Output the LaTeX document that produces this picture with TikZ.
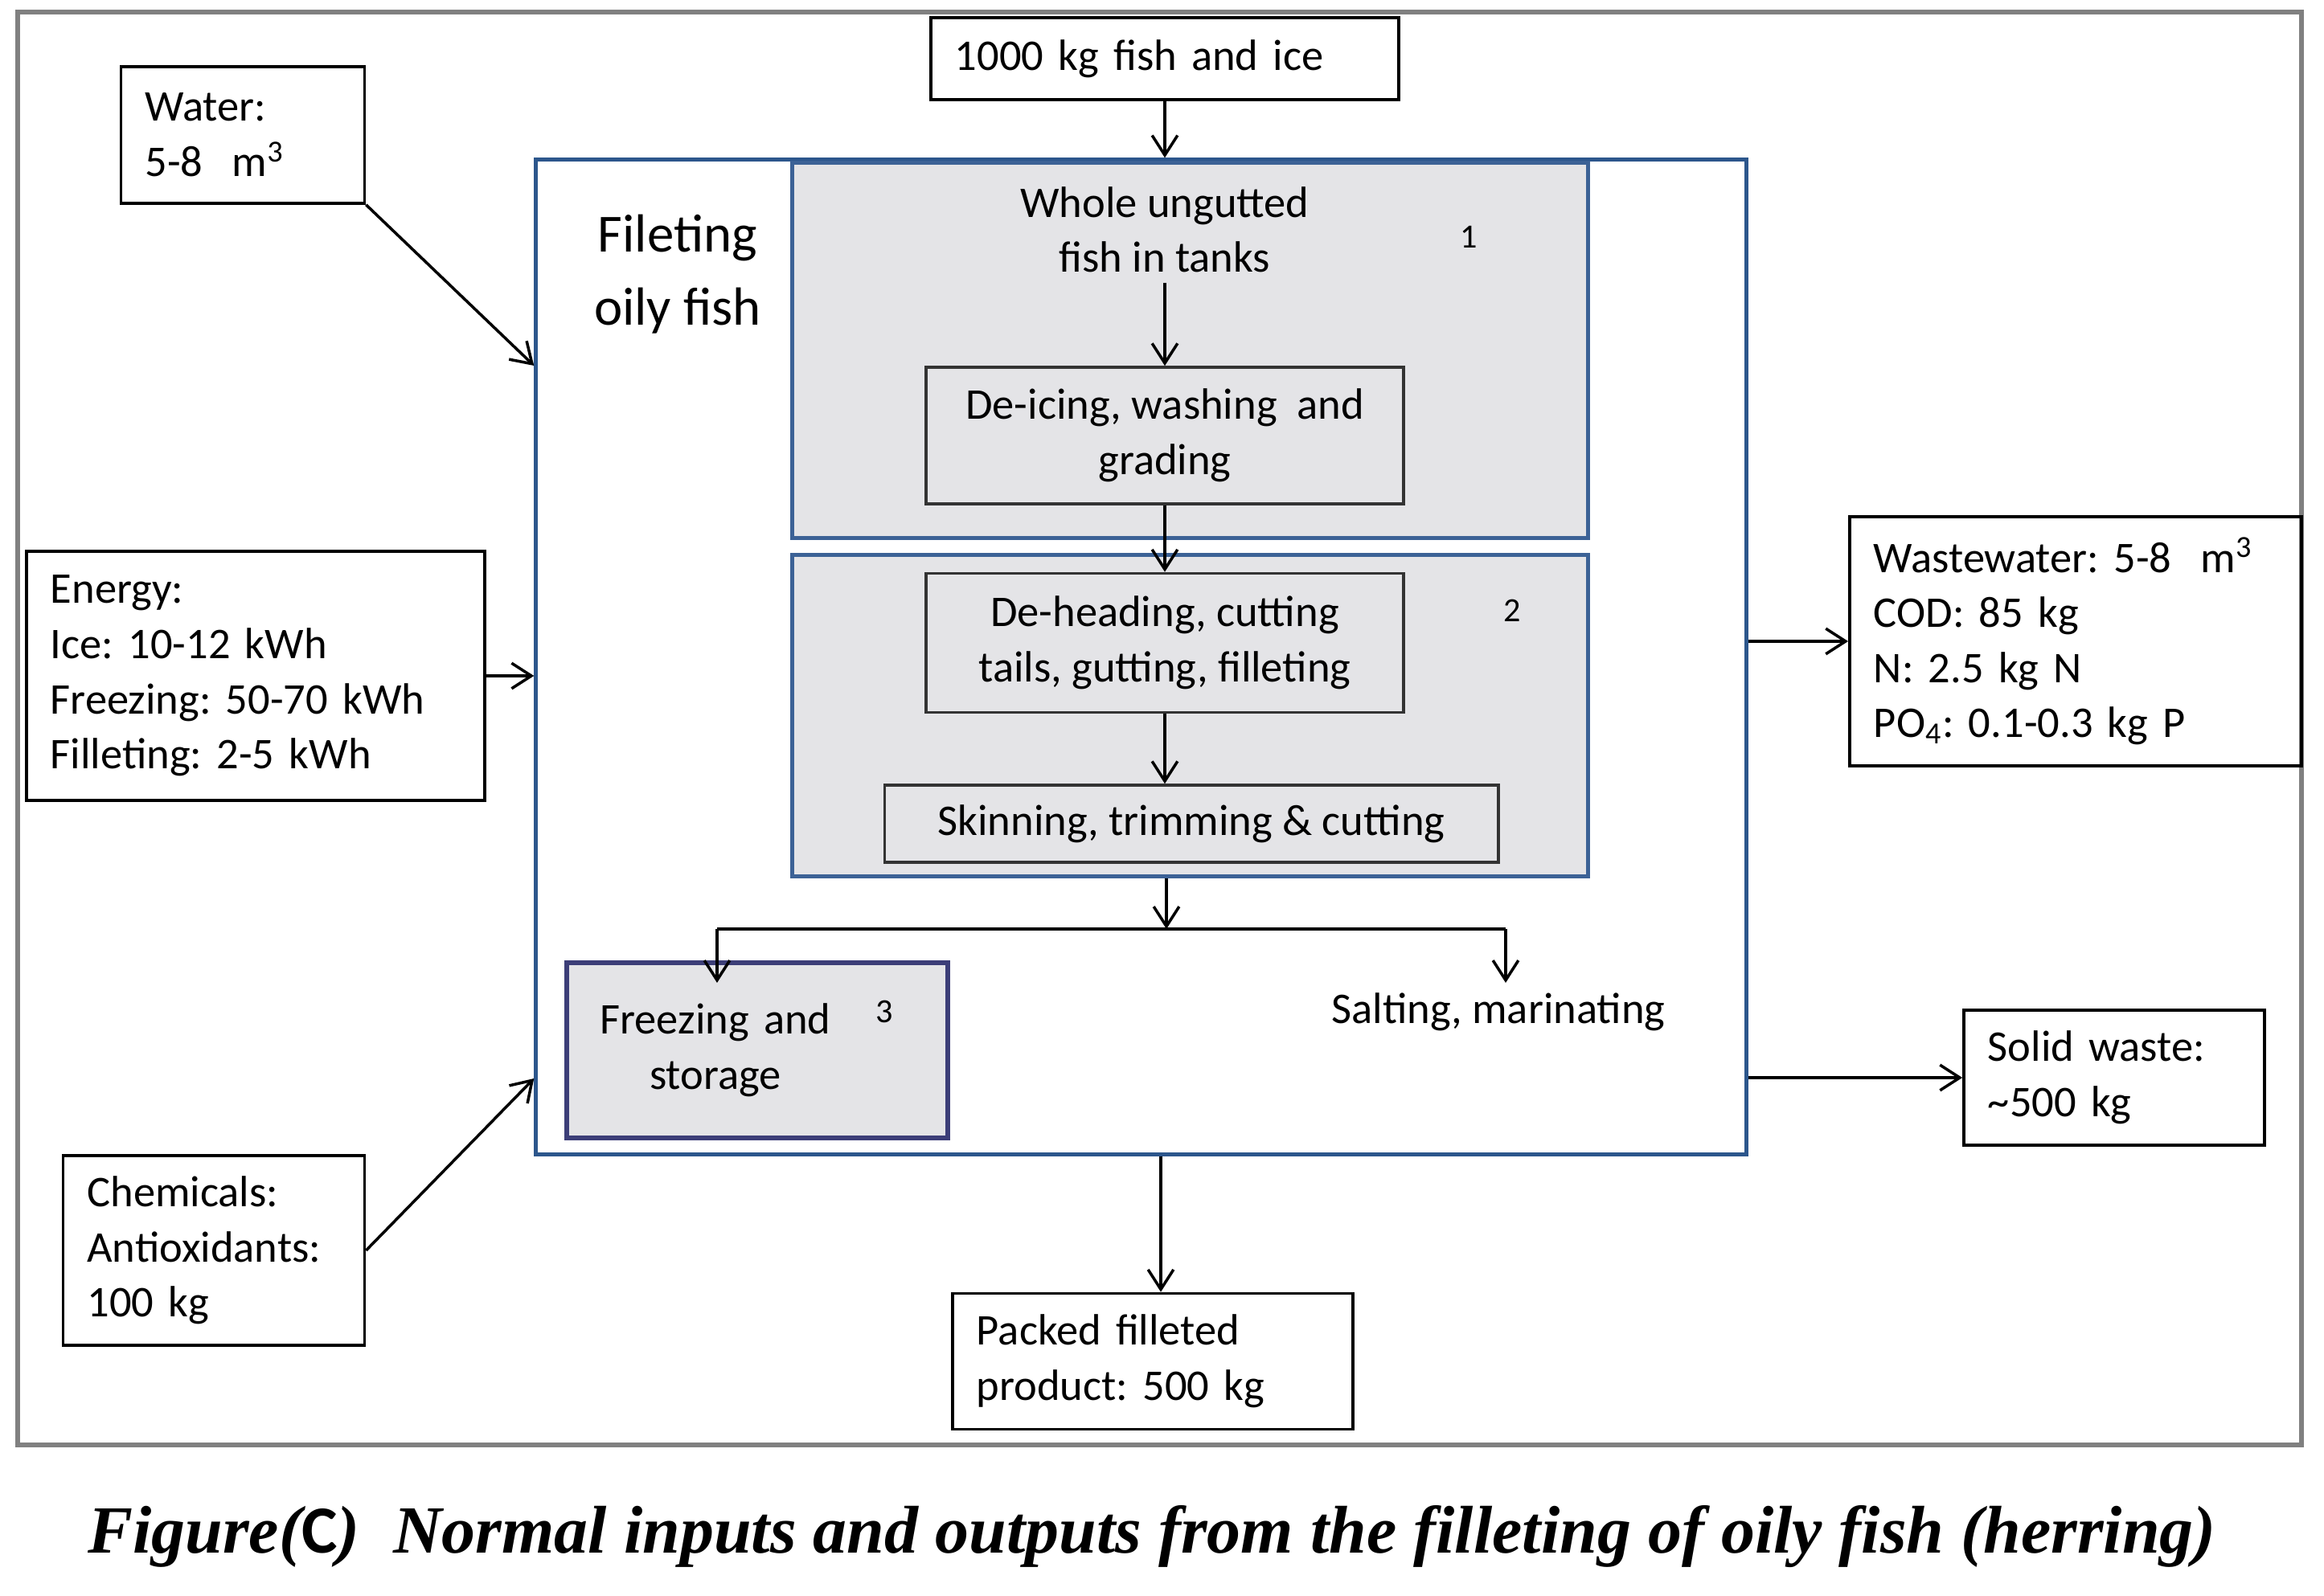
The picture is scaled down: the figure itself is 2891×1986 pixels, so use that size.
\documentclass[tikz,border=0pt]{standalone}
\usepackage{fontspec}
\setmainfont{Carlito}
\newfontfamily\captionserif{Liberation Serif}
\usepackage{graphicx}
\usepackage{xcolor}
\definecolor{FrameGray}{RGB}{128,128,128}
\definecolor{ProcessBlue}{RGB}{44,86,140}
\definecolor{PanelGray}{RGB}{228,228,231}
\definecolor{PanelEdge}{RGB}{60,98,150}
\definecolor{FreezeEdge}{RGB}{60,62,120}
\usepackage{tikz}
\usetikzlibrary{arrows.meta, positioning}
\frenchspacing

\begin{document}
\begin{tikzpicture}[x=0.01cm, y=-0.01cm,
    boxfont/.style={font=\fontsize{15.5}{19.5}\selectfont},
    databox/.style={draw, line width=1pt, boxfont, inner xsep=0.3cm, align=left},
    stepbox/.style={draw=black!80, line width=1pt, fill=PanelGray, boxfont, align=center},
    panel/.style={draw=PanelEdge, line width=1.4pt, fill=PanelGray},
    flow/.style={line width=1pt, -{Straight Barb[length=7pt,width=9pt]}}]
    \useasboundingbox[fill=white] (0,0) rectangle (2891,1986);
    \draw[FrameGray, line width=1.6pt] (22,15) rectangle (2863,1798);

    % process block
    \node[draw=ProcessBlue, line width=1.3pt, minimum width=15.05cm, minimum height=12.37cm] (process) at (1419.5,817.5) {};
    \node[panel, minimum width=9.89cm, minimum height=4.66cm] (panel1) at (1480.5,436) {};
    \node[panel, minimum width=9.89cm, minimum height=3.99cm] (panel2) at (1480.5,890.5) {};
    \node[font=\fontsize{19}{26}\selectfont, align=center] (title) at (843,341) {Fileting\\oily fish};
    \node[boxfont, align=center] (whole) at (1449,286) {Whole ungutted\\fish in tanks};
    \node[font=\fontsize{12}{14}\selectfont] (num1) at (1827,295) {1};
    \node[stepbox, minimum width=5.94cm, minimum height=1.70cm] (deice) at (1449,542) {De-icing, washing\ \ and\\grading};
    \node[stepbox, minimum width=5.94cm, minimum height=1.73cm] (dehead) at (1449,800) {De-heading, cutting\\tails, gutting, filleting};
    \node[font=\fontsize{12}{14}\selectfont] (num2) at (1881,760) {2};
    \node[stepbox, minimum width=7.63cm, minimum height=0.96cm] (skin) at (1482,1025) {Skinning, trimming \& cutting};
    \node[draw=FreezeEdge, line width=1.6pt, fill=PanelGray, boxfont, align=center, text width=4.5cm, minimum height=2.18cm] (freeze) at (942,1307) {Freezing and\hspace*{1.04cm}\mbox{}\\storage\hspace*{1.04cm}\mbox{}};
    \node[font=\fontsize{12}{14}\selectfont] (num3) at (1100,1259) {3};
    \node[boxfont] (salt) at (1864,1259) {Salting, marinating};

    % inputs and outputs
    \node[databox, text width=5.22cm, minimum height=1.02cm] (input) at (1449,73) {1000 kg fish and ice};
    \node[databox, text width=2.43cm, minimum height=1.70cm] (water) at (302,168) {Water:\\5-8\ \ m\textsuperscript{3}};
    \node[databox, text width=5.10cm, minimum height=3.10cm] (energy) at (318,841) {Energy:\\Ice: 10-12 kWh\\Freezing: 50-70 kWh\\Filleting: 2-5 kWh};
    \node[databox, text width=3.15cm, minimum height=2.36cm] (chem) at (266,1556) {Chemicals:\\Antioxidants:\\100 kg};
    \node[databox, text width=5.02cm, minimum height=3.10cm] (wastew) at (2582,798) {Wastewater: 5-8\ \ m\textsuperscript{3}\\COD: 85 kg\\N: 2.5 kg N\\PO\textsubscript{4}: 0.1-0.3 kg P};
    \node[databox, text width=3.14cm, minimum height=1.68cm] (solid) at (2630,1341) {Solid waste:\\\textasciitilde500 kg};
    \node[databox, text width=4.38cm, minimum height=1.69cm] (packed) at (1434,1694) {Packed filleted\\product: 500 kg};

    % connectors
    \draw[flow] (input) -- (input |- process.north);
    \draw[flow] (whole) -- (deice);
    \draw[flow] (deice) -- (dehead);
    \draw[flow] (dehead) -- (dehead |- skin.north);
    \coordinate (split) at (1451,1156);
    \coordinate (splitL) at (892,1156);
    \coordinate (splitR) at (1873,1156);
    \draw[flow] (panel2.south -| split) -- (split);
    \draw[line width=1pt] (splitL) -- (splitR);
    \draw[flow] (splitL) -- (splitL |- salt.north);
    \draw[flow] (splitR) -- (splitR |- salt.north);
    \draw[flow] (water.south east) -- (process.west |- 0,455);
    \draw[flow] (energy) -- (energy -| process.west);
    \draw[flow] (chem.east) -- (process.west |- 0,1342);
    \draw[flow] (process.east |- wastew) -- (wastew.west);
    \draw[flow] (process.east |- solid) -- (solid.west);
    \draw[flow] ([xshift=0.1cm]process.south -| packed.north) -- ([xshift=0.1cm]packed.north);

    \node (caption) at (1433,1912) {\resizebox{26.46cm}{!}{\captionserif\bfseries\itshape Figure({\normalfont\bfseries C})\ \ Normal inputs and outputs from the filleting of oily fish (herring)}};
\end{tikzpicture}
\end{document}
